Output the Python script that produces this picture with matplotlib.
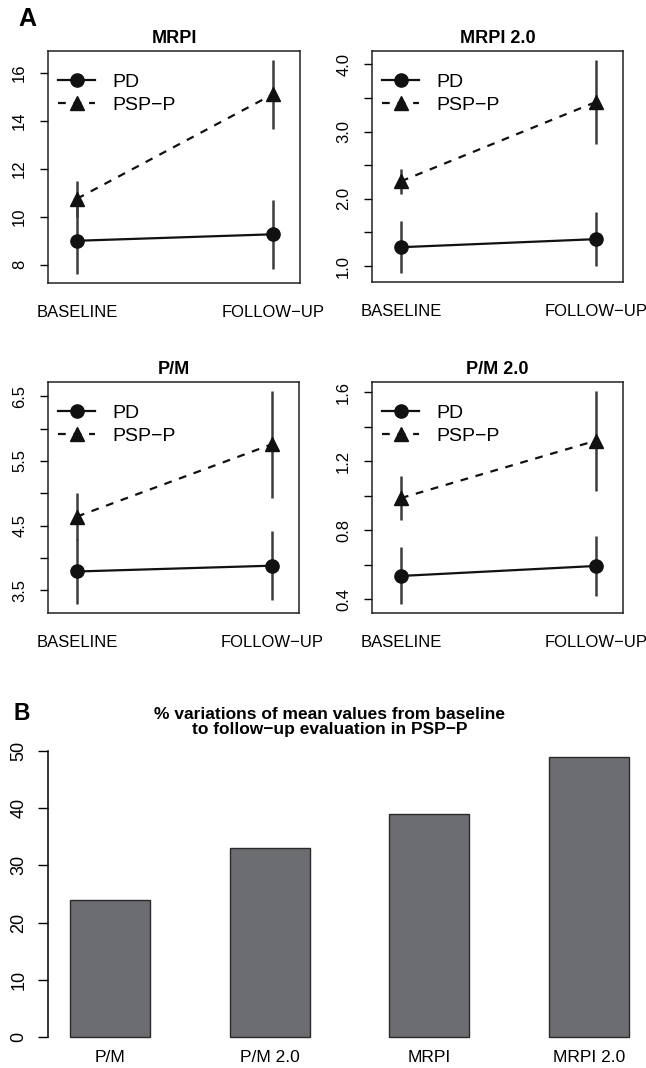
import numpy as np
import matplotlib
matplotlib.use('Agg')
import matplotlib.pyplot as plt

# Data
time_labels = ['BASELINE', 'FOLLOW\u2212UP']
panel_names = ['MRPI', 'MRPI 2.0', 'P/M', 'P/M 2.0']

pd_mean = {'MRPI': [9.0, 9.27], 'MRPI 2.0': [1.28, 1.40], 'P/M': [3.79, 3.88], 'P/M 2.0': [0.536, 0.594]}
pd_err = {'MRPI': [1.4, 1.43], 'MRPI 2.0': [0.39, 0.40], 'P/M': [0.51, 0.53], 'P/M 2.0': [0.165, 0.175]}
psp_mean = {'MRPI': [10.75, 15.1], 'MRPI 2.0': [2.26, 3.44], 'P/M': [4.64, 5.76], 'P/M 2.0': [0.987, 1.32]}
psp_err = {'MRPI': [0.75, 1.44], 'MRPI 2.0': [0.19, 0.63], 'P/M': [0.36, 0.83], 'P/M 2.0': [0.128, 0.29]}

yticks = {'MRPI': [8, 10, 12, 14, 16],
          'MRPI 2.0': [1.0, 1.5, 2.0, 2.5, 3.0, 3.5, 4.0],
          'P/M': [3.5, 4.0, 4.5, 5.0, 5.5, 6.0, 6.5],
          'P/M 2.0': [0.4, 0.6, 0.8, 1.0, 1.2, 1.4, 1.6]}
ytick_labels = {'MRPI': ['8', '10', '12', '14', '16'],
                'MRPI 2.0': ['1.0', '', '2.0', '', '3.0', '', '4.0'],
                'P/M': ['3.5', '', '4.5', '', '5.5', '', '6.5'],
                'P/M 2.0': ['0.4', '', '0.8', '', '1.2', '', '1.6']}

bar_labels = ['P/M', 'P/M 2.0', 'MRPI', 'MRPI 2.0']
bar_values = [24, 33, 39, 49]

# Figure setup
W, H = 646, 1068
plt.rcParams['font.family'] = ['Liberation Sans', 'DejaVu Sans']
fig = plt.figure(figsize=(W / 100, H / 100), dpi=100)


def px_axes(x0, y0, x1, y1):
    """ Axes from pixel box (top-left origin). """
    return fig.add_axes([x0 / W, 1 - y1 / H, (x1 - x0) / W, (y1 - y0) / H])


boxes = {'MRPI': (48, 51, 300, 283), 'MRPI 2.0': (372, 51, 623, 282),
         'P/M': (48, 382, 299, 613), 'P/M 2.0': (372, 382, 623, 613)}

## Panel A: four line plots
x = [1, 2]
for name in panel_names:
    ax = px_axes(*boxes[name])
    # error bars first, so markers sit on top
    ax.errorbar(x, pd_mean[name], yerr=pd_err[name], fmt='none', ecolor='#3c3c3c', elinewidth=1.8, zorder=1)
    ax.errorbar(x, psp_mean[name], yerr=psp_err[name], fmt='none', ecolor='#3c3c3c', elinewidth=1.8, zorder=1)
    ax.plot(x, pd_mean[name], '-', marker='o', color='#111111', lw=1.6, ms=9.5, label='PD', zorder=3)
    ax.plot(x, psp_mean[name], marker='^', color='#111111', lw=1.6, ms=9.5, linestyle=(0, (3.5, 3.5)),
            label='PSP\u2212P', zorder=3)

    # R-style 4% padding around the data range
    lo = min(np.min(np.array(pd_mean[name]) - np.array(pd_err[name])),
             np.min(np.array(psp_mean[name]) - np.array(psp_err[name])))
    hi = max(np.max(np.array(pd_mean[name]) + np.array(pd_err[name])),
             np.max(np.array(psp_mean[name]) + np.array(psp_err[name])))
    pad = (hi - lo) * 0.04
    ax.set_ylim(lo - pad, hi + pad)
    ax.set_xlim(0.852, 2.138)

    ax.set_yticks(yticks[name])
    ax.set_yticklabels(ytick_labels[name], rotation=90, va='center', fontsize=12)
    ax.tick_params(axis='y', direction='out', length=6, width=1, pad=9)
    ax.set_xticks(x)
    ax.set_xticklabels(time_labels, fontsize=12)
    ax.tick_params(axis='x', length=0, pad=16)
    for s in ax.spines.values():
        s.set_linewidth(1.1)
        s.set_color('#222222')
    ax.set_title(name, fontweight='bold', fontsize=13, pad=6)

    ax.legend(loc='upper left', bbox_to_anchor=(0.04, 0.905), frameon=False, fontsize=14,
              handlelength=1.9, handletextpad=0.9, labelspacing=0.3, borderaxespad=0, borderpad=0)

fig.text(27 / W, 1 - 19 / H, 'A', fontsize=18, fontweight='bold', va='center', ha='center')

## Panel B: bar chart
ylo, yhi = -0.04 * max(bar_values), 1.04 * max(bar_values)
axb = px_axes(48, 751 - (yhi - 50) * 5.72, 651, 1037 - ylo * 5.72)
xb = np.arange(len(bar_values))
axb.bar(xb, bar_values, width=0.5, color='#6c6d71', edgecolor='#2a2a2a', linewidth=1)
axb.set_xlim(-0.39, 3.39)
axb.set_ylim(ylo, yhi)
axb.set_yticks([0, 10, 20, 30, 40, 50])
axb.set_yticklabels(['0', '10', '20', '30', '40', '50'], rotation=90, va='center', fontsize=13)
axb.tick_params(axis='y', direction='out', length=7, width=1, pad=8)
axb.set_xticks(xb)
axb.set_xticklabels(bar_labels, fontsize=12.5)
axb.tick_params(axis='x', length=0, pad=1.5)
for side in ['top', 'right', 'bottom']:
    axb.spines[side].set_visible(False)
axb.spines['left'].set_bounds(0, 50)
axb.spines['left'].set_linewidth(1.1)

fig.text(330 / W, 1 - 722 / H, '% variations of mean values from baseline\nto follow\u2212up evaluation in PSP\u2212P',
         ha='center', va='center', fontsize=12.5, fontweight='bold', linespacing=1.0)
fig.text(22 / W, 1 - 713 / H, 'B', fontsize=16.5, fontweight='bold', va='center', ha='center')

fig.savefig('out.png', dpi=100)
